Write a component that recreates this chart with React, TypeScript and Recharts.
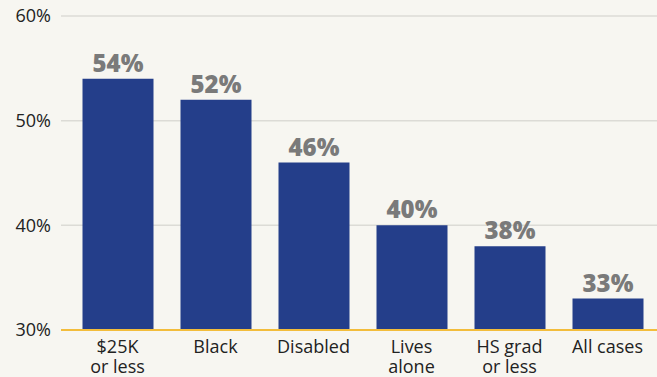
import React from 'react';
import {
  BarChart, Bar, XAxis, YAxis, CartesianGrid, LabelList, ReferenceLine,
} from 'recharts';

const categories = ['$25K\nor less', 'Black', 'Disabled', 'Lives\nalone', 'HS grad\nor less', 'All cases'];
const shares = [54, 52, 46, 40, 38, 33];
const yTicks = [30, 40, 50, 60];

const data = categories.map((name, i) => ({ name, share: shares[i] }));

const FONT = '"Open Sans", "Noto Sans", sans-serif';

function CategoryTick(props: any) {
  const { x, y, payload } = props;
  const lines = String(payload.value).split('\n');
  return (
    <text x={x} y={y} textAnchor="middle" fill="#222" fontSize={18} fontFamily={FONT}>
      {lines.map((line, i) => (
        <tspan key={i} x={x} y={y + 23 + i * 20}>{line}</tspan>
      ))}
    </text>
  );
}

export default function App() {
  return (
    <div style={{ width: 657, height: 377, background: '#f7f6f1', position: 'absolute', left: 0, top: 0 }}>
      <style>{'body{margin:0}'}</style>
      <BarChart width={657} height={377} data={data} margin={{ top: 16, right: 0, bottom: 0, left: 0 }}>
        <CartesianGrid vertical={false} stroke="#dcdbd6" strokeWidth={1.5} />
        <XAxis
          dataKey="name"
          interval={0}
          height={47}
          axisLine={false}
          tickLine={false}
          tickSize={0}
          tickMargin={0}
          padding={{ left: 7.5, right: 0.5 }}
          tick={<CategoryTick />}
        />
        <YAxis
          width={61}
          domain={[30, 60]}
          ticks={yTicks}
          axisLine={false}
          tickLine={false}
          tickSize={0}
          tickMargin={10}
          tickFormatter={(v: number) => `${v}%`}
          tick={{ fill: '#222', fontSize: 18, fontFamily: FONT }}
        />
        <Bar dataKey="share" fill="#243e8a" barSize={71} isAnimationActive={false}>
          <LabelList
            dataKey="share"
            position="top"
            offset={7}
            formatter={(v: any) => `${v}%`}
            fill="#7a7a7a"
            fontSize={24}
            fontWeight={800}
            fontFamily={FONT}
          />
        </Bar>
        <ReferenceLine y={30} stroke="#f3bd3c" strokeWidth={2} />
      </BarChart>
    </div>
  );
}
